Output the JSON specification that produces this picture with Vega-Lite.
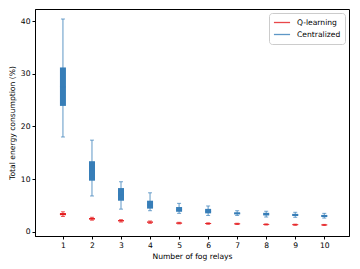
{
  "$schema": "https://vega.github.io/schema/vega-lite/v6.json",
  "autosize": "none",
  "width": 314,
  "height": 227,
  "padding": {"left": 35, "top": 9, "right": 11, "bottom": 33},
  "background": "white",
  "config": {
    "font": "DejaVu Sans",
    "view": {"stroke": "black", "strokeWidth": 1},
    "axis": {"grid": false, "domainColor": "black", "tickColor": "black", "labelFontSize": 7.6, "titleFontSize": 7.6, "titleFontWeight": "normal", "labelColor": "black", "titleColor": "black", "tickSize": 3, "labelPadding": 2}
  },
  "data": {"values": [
    {"method": "Q-learning", "relay": 1, "lo": 2.9, "q1": 3.15, "med": 3.35, "q3": 3.55, "hi": 3.8},
    {"method": "Q-learning", "relay": 2, "lo": 2.2, "q1": 2.35, "med": 2.45, "q3": 2.6, "hi": 2.75},
    {"method": "Q-learning", "relay": 3, "lo": 1.85, "q1": 2.0, "med": 2.1, "q3": 2.2, "hi": 2.3},
    {"method": "Q-learning", "relay": 4, "lo": 1.6, "q1": 1.75, "med": 1.83, "q3": 1.92, "hi": 2.05},
    {"method": "Q-learning", "relay": 5, "lo": 1.5, "q1": 1.58, "med": 1.65, "q3": 1.72, "hi": 1.8},
    {"method": "Q-learning", "relay": 6, "lo": 1.42, "q1": 1.5, "med": 1.57, "q3": 1.63, "hi": 1.7},
    {"method": "Q-learning", "relay": 7, "lo": 1.38, "q1": 1.45, "med": 1.5, "q3": 1.56, "hi": 1.62},
    {"method": "Q-learning", "relay": 8, "lo": 1.28, "q1": 1.35, "med": 1.4, "q3": 1.45, "hi": 1.5},
    {"method": "Q-learning", "relay": 9, "lo": 1.22, "q1": 1.29, "med": 1.34, "q3": 1.39, "hi": 1.45},
    {"method": "Q-learning", "relay": 10, "lo": 1.2, "q1": 1.26, "med": 1.3, "q3": 1.35, "hi": 1.4},
    {"method": "Centralized", "relay": 1, "lo": 18.0, "q1": 23.9, "med": 27.5, "q3": 31.2, "hi": 40.4},
    {"method": "Centralized", "relay": 2, "lo": 6.8, "q1": 9.7, "med": 11.5, "q3": 13.4, "hi": 17.4},
    {"method": "Centralized", "relay": 3, "lo": 4.3, "q1": 5.9, "med": 7.0, "q3": 8.3, "hi": 9.5},
    {"method": "Centralized", "relay": 4, "lo": 4.0, "q1": 4.4, "med": 5.1, "q3": 5.9, "hi": 7.4},
    {"method": "Centralized", "relay": 5, "lo": 3.5, "q1": 3.8, "med": 4.2, "q3": 4.7, "hi": 5.4},
    {"method": "Centralized", "relay": 6, "lo": 3.1, "q1": 3.5, "med": 3.9, "q3": 4.35, "hi": 4.9},
    {"method": "Centralized", "relay": 7, "lo": 3.1, "q1": 3.3, "med": 3.5, "q3": 3.7, "hi": 4.0},
    {"method": "Centralized", "relay": 8, "lo": 2.8, "q1": 3.1, "med": 3.35, "q3": 3.6, "hi": 3.9},
    {"method": "Centralized", "relay": 9, "lo": 2.75, "q1": 3.0, "med": 3.2, "q3": 3.4, "hi": 3.7},
    {"method": "Centralized", "relay": 10, "lo": 2.6, "q1": 2.8, "med": 3.0, "q3": 3.2, "hi": 3.5}
  ]},
  "encoding": {
    "x": {"field": "relay", "type": "quantitative", "scale": {"domain": [0.21, 10.68], "nice": false, "zero": false}, "axis": {"values": [1,2,3,4,5,6,7,8,9,10], "format": "d", "title": "Number of fog relays"}},
    "xOffset": {"field": "method", "type": "nominal", "scale": {"domain": ["Q-learning", "Centralized"], "range": [-9, 0]}},
    "color": {"field": "method", "type": "nominal", "scale": {"domain": ["Q-learning", "Centralized"], "range": ["#e41a1c", "#377eb8"]},
      "legend": {"title": null, "orient": "top-right", "offset": 4, "symbolType": "stroke", "symbolStrokeWidth": 1.3, "symbolSize": 260, "clipHeight": 11, "rowPadding": 1, "labelFontSize": 7.6, "labelOffset": 6, "strokeColor": "#cccccc", "fillColor": "white", "padding": 4, "cornerRadius": 3, "labelColor": "black"}}
  },
  "layer": [
    {
      "mark": {"type": "rule", "strokeWidth": 1, "opacity": 0.8},
      "encoding": {
        "y": {"field": "lo", "type": "quantitative", "scale": {"domain": [-0.8, 42.3], "nice": false, "zero": false}, "axis": {"values": [0,5,10,15,20,25,30,35,40], "title": "Total energy consumption (%)"}},
        "y2": {"field": "hi"}
      }
    },
    {
      "mark": {"type": "tick", "orient": "horizontal", "size": 4, "thickness": 1},
      "encoding": {"y": {"field": "lo", "type": "quantitative"}}
    },
    {
      "mark": {"type": "tick", "orient": "horizontal", "size": 4, "thickness": 1},
      "encoding": {"y": {"field": "hi", "type": "quantitative"}}
    },
    {
      "mark": {"type": "bar", "width": 6},
      "encoding": {"y": {"field": "q1", "type": "quantitative"}, "y2": {"field": "q3"}}
    },
    {
      "mark": {"type": "tick", "orient": "horizontal", "size": 6, "thickness": 1},
      "encoding": {"y": {"field": "med", "type": "quantitative"}}
    }
  ]
}
